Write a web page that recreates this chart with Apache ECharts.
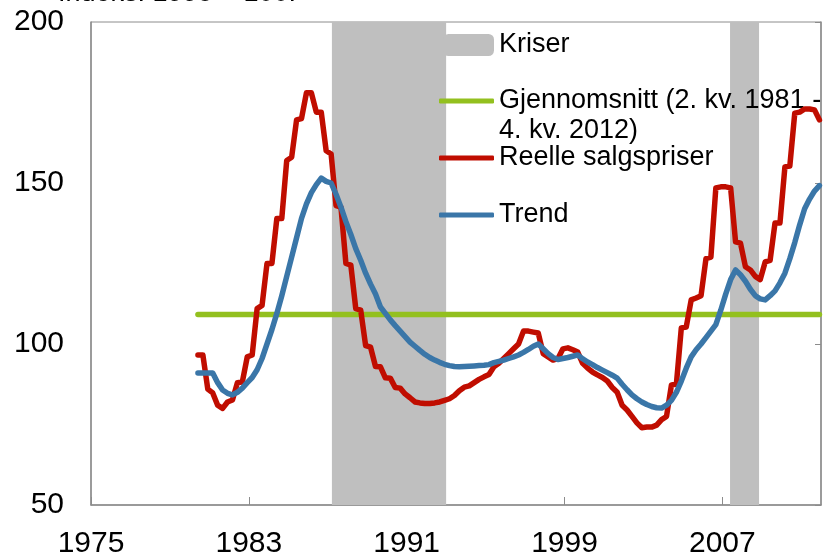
<!DOCTYPE html>
<html lang="no">
<head>
<meta charset="UTF-8">
<title>Reelle salgspriser</title>
<script src="https://cdn.jsdelivr.net/npm/echarts@6/dist/echarts.min.js"></script>
<style>
    html, body { margin: 0; padding: 0; background: #fff; }
    #chart { width: 833px; height: 555px; }
</style>
</head>
<body>
<div id="chart"></div>
<script>
    // 2. kv. 1981 sits here on the year axis, one step per quarter after that
    var firstQuarterPos = 1980.42
    var quarterStep = 0.25

    var realPrices = [
        96.6, 96.6, 86, 84.8, 81, 80, 82, 82.6, 88, 88.2,
        96, 96.6, 111, 112, 125, 125, 139, 139, 157, 158,
        169.6, 170, 178, 178, 172, 172, 160, 159, 143, 142.5,
        125, 124.5, 111, 110.5, 99.5, 99, 93, 92.9, 89.5, 89.4,
        86.5, 86.3, 84.5, 83.3, 82, 81.7, 81.5, 81.5, 81.7, 82,
        82.5, 83, 84, 85.5, 86.6, 87, 88, 89, 89.8, 90.5,
        92.9, 94, 95.5, 97, 98.5, 100, 104, 104, 103.7, 103.4,
        97, 96, 95, 95.5, 98.5, 98.8, 98.2, 97.5, 94, 92.5,
        91.3, 90.4, 89.6, 88.5, 86.5, 85, 81, 79.5, 77.5, 75.5,
        74, 74.2, 74.2, 74.8, 76.5, 77.5, 87.3, 87.5, 105, 105.3,
        113.7, 114.3, 115, 126.5, 127, 148.5, 148.8, 148.8, 148.5, 131.7,
        131.3, 124, 123, 121, 120, 125.5, 126, 137.6, 137.6, 155,
        155.3, 171.7, 172, 173, 173, 172.7, 169.6
    ]
    var trend = [
        91, 91, 91, 91, 88, 85.7, 84.7, 84.2, 85, 86.3,
        88, 89.6, 92, 95.5, 100, 104.5, 109.5, 115, 121, 127,
        133, 139, 143.5, 147, 149.5, 151.5, 150.5, 150, 146.5, 142.5,
        138, 134, 129.6, 126, 122, 118.6, 115.5, 111.5, 109.5, 107.5,
        105.7, 104, 102.3, 100.6, 99.3, 98, 96.8, 95.8, 95, 94.3,
        93.7, 93.3, 93, 92.9, 93, 93.1, 93.2, 93.3, 93.4, 93.6,
        94.2, 94.6, 95, 95.5, 96, 96.6, 97.4, 98.3, 99.3, 100,
        98.5, 97, 95.8, 95.2, 95.5, 95.8, 96.2, 96.6, 95.4, 94.4,
        93.6, 92.7, 91.9, 91.1, 90.3, 89.4, 87.5, 85.8, 84.2, 83,
        82, 81.2, 80.6, 80.2, 80.1, 81, 82.5, 85, 88.5, 92.5,
        96, 98.2, 100, 102, 104, 106, 110.5, 115.5, 120, 123,
        121.5, 119.5, 117, 115, 114, 113.7, 115, 116.5, 119, 122,
        126.5, 131.5, 137, 142, 145, 147.5, 149.2
    ]
    var average = 109.2
    var crises = [[1987.21, 1993.0], [2007.39, 2008.86]]
    var yearTicks = [1975, 1983, 1991, 1999, 2007]

    var font = 'Liberation Sans, Arial, sans-serif'
    var axisGray = '#8c8c8c'

    function toPoints(values) {
        return values.map(function (v, i) { return [firstQuarterPos + i * quarterStep, v] })
    }
    var lastPos = firstQuarterPos + (realPrices.length - 1) * quarterStep

    var legendText = { color: '#000', fontSize: 27, fontFamily: font, lineHeight: 30 }
    var avgName = 'Gjennomsnitt (2. kv. 1981 -\n4. kv. 2012)'

    var option = {
        animation: false,
        backgroundColor: '#fff',
        graphic: [{
            type: 'text', left: 58, top: -20,
            style: { text: 'Indeks. 1998 = 100.', fontSize: 27, fontFamily: font, fill: '#000' }
        }],
        grid: {
            left: 91, right: 12, top: 22, bottom: 50,
            outerBoundsMode: 'none',
            show: true, borderColor: axisGray, borderWidth: 1
        },
        legend: [
            { data: ['Kriser'], left: 443, top: 30, padding: 0, icon: 'roundRect',
              itemWidth: 51, itemHeight: 22, textStyle: legendText },
            { data: [avgName], left: 439, top: 56, padding: 0, icon: 'roundRect',
              itemWidth: 55, itemHeight: 5,
              // an empty first row so the icon lines up with the first text line
              formatter: function (name) {
                  return '{s| }\n' + name.split('\n').map(function (l) { return '{g|' + l + '}' }).join('\n')
              },
              textStyle: Object.assign({}, legendText, {
                  rich: { s: { fontSize: 27, lineHeight: 30 }, g: { fontSize: 27, lineHeight: 30, fontFamily: font, color: '#000' } }
              }) },
            { data: ['Reelle salgspriser'], left: 439, top: 143, padding: 0, icon: 'roundRect',
              itemWidth: 55, itemHeight: 5, textStyle: legendText },
            { data: ['Trend'], left: 439, top: 200, padding: 0, icon: 'roundRect',
              itemWidth: 55, itemHeight: 5, textStyle: legendText }
        ],
        xAxis: {
            type: 'value', min: 1975, max: 2012,
            splitLine: { show: false },
            axisLine: { lineStyle: { color: axisGray, width: 1.5 } },
            axisTick: { inside: true, length: 8, customValues: yearTicks, lineStyle: { color: axisGray } },
            axisLabel: {
                customValues: yearTicks, color: '#000', fontSize: 30, fontFamily: font, margin: 24,
                formatter: function (v) { return String(v) }
            }
        },
        yAxis: [{
            type: 'value', min: 50, max: 200, interval: 50,
            splitLine: { show: false },
            axisLine: { show: true, lineStyle: { color: axisGray, width: 1.5 } },
            axisTick: { show: false },
            axisLabel: { color: '#000', fontSize: 30, fontFamily: font, margin: 27 }
        }, {
            type: 'value', min: 50, max: 200, interval: 50, position: 'right',
            splitLine: { show: false },
            axisLine: { show: true, lineStyle: { color: axisGray, width: 1.5 } },
            axisTick: { inside: true, length: 6, lineStyle: { color: axisGray } },
            axisLabel: { show: false }
        }],
        series: [
            {
                name: 'Kriser', type: 'line', data: [], z: 1,
                itemStyle: { color: '#bfbfbf' },
                markArea: {
                    silent: true,
                    itemStyle: { color: '#bfbfbf' },
                    data: crises.map(function (c) { return [{ xAxis: c[0] }, { xAxis: c[1] }] })
                }
            },
            {
                name: avgName, type: 'line', z: 3,
                data: [[firstQuarterPos, average], [lastPos, average]],
                symbol: 'none', color: '#93c01f',
                lineStyle: { width: 5.5, cap: 'round' }
            },
            {
                name: 'Reelle salgspriser', type: 'line', z: 4,
                data: toPoints(realPrices),
                symbol: 'none', color: '#c00d00',
                lineStyle: { width: 5.5, cap: 'round', join: 'round' }
            },
            {
                name: 'Trend', type: 'line', z: 5,
                data: toPoints(trend),
                symbol: 'none', color: '#3a76a8',
                lineStyle: { width: 5.5, cap: 'round', join: 'round' }
            }
        ]
    }

    var myChart = echarts.init(document.getElementById('chart'))
    myChart.setOption(option)
</script>
</body>
</html>
